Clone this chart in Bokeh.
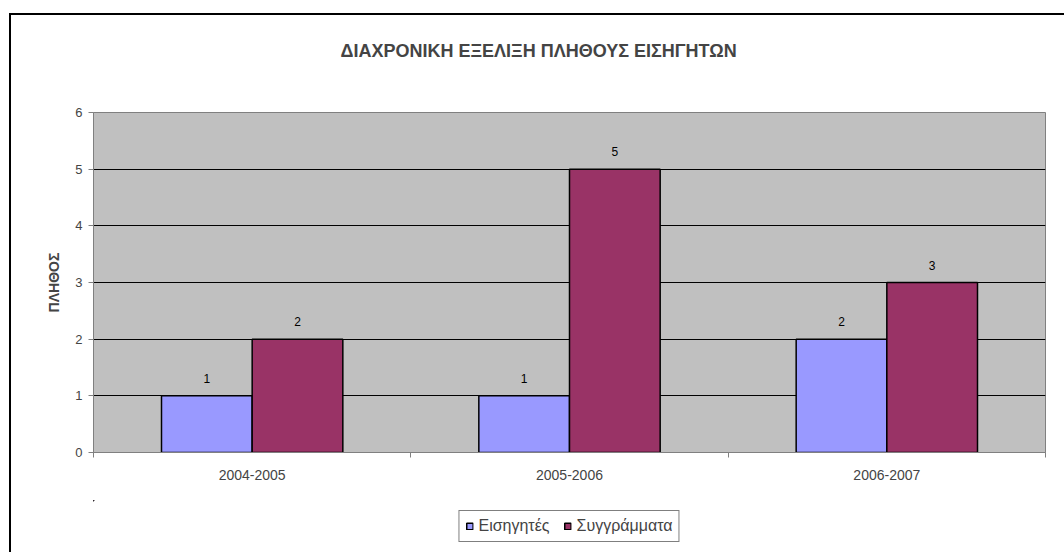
import numpy as np
from bokeh.plotting import figure
from bokeh.layouts import column
from bokeh.models import (ColumnDataSource, FixedTicker, Legend, LegendItem, Range1d, Title)
from bokeh.embed import file_html
from bokeh.resources import INLINE

categories = ["2004-2005", "2005-2006", "2006-2007"]
eisigites = [1, 1, 2]
syggrammata = [2, 5, 3]
series_names = ["Εισηγητές", "Συγγράμματα"]
colors = ["#9999FF", "#993366"]
title_text = "ΔΙΑΧΡΟΝΙΚΗ ΕΞΕΛΙΞΗ ΠΛΗΘΟΥΣ ΕΙΣΗΓΗΤΩΝ"
y_label = "ΠΛΗΘΟΣ"
y_ticks = [0, 1, 2, 3, 4, 5, 6]

FONT = "Liberation Sans"
n = len(categories)
centers = np.arange(n) + 0.5
bar_w = 1 / 3.5  # Excel gap width 150%

src = ColumnDataSource(dict(
    x0=centers - bar_w / 2,
    x1=centers + bar_w / 2,
    a=eisigites,
    b=syggrammata,
    a_lab=[str(v) for v in eisigites],
    b_lab=[str(v) for v in syggrammata],
))

p = figure(width=1053, height=485, output_backend="svg", toolbar_location=None,
           x_range=Range1d(0, n), y_range=Range1d(0, 6),
           min_border_left=82, min_border_right=19, min_border_top=97,
           min_border_bottom=48,
           background_fill_color="#C0C0C0", border_fill_color="white",
           outline_line_color="#808080", outline_line_width=1)

p.title.text = title_text
p.title.text_font = FONT
p.title.text_font_size = "18px"
p.title.text_font_style = "bold"
p.title.align = "left"
p.title.offset = 247
p.title.vertical_align = "bottom"
p.title.standoff = 0
# blank spacer between title and plot area
p.add_layout(Title(text=" ", text_font_size="10px", standoff=39), "above")

r1 = p.vbar(x="x0", top="a", width=bar_w, source=src, fill_color=colors[0],
            line_color="black", line_width=1.5)
r2 = p.vbar(x="x1", top="b", width=bar_w, source=src, fill_color=colors[1],
            line_color="black", line_width=1.5)

p.text(x="x0", y="a", text="a_lab", source=src, y_offset=-13,
       text_align="center", text_baseline="bottom", text_font_size="12px",
       text_color="black", text_font={"value": FONT})
p.text(x="x1", y="b", text="b_lab", source=src, y_offset=-13,
       text_align="center", text_baseline="bottom", text_font_size="12px",
       text_color="black", text_font={"value": FONT})

# grid
p.xgrid.visible = False
p.ygrid.ticker = FixedTicker(ticks=y_ticks[1:-1])
p.ygrid.grid_line_color = "black"
p.ygrid.grid_line_width = 1

# x axis
p.xaxis.ticker = FixedTicker(ticks=list(centers), minor_ticks=list(range(n + 1)))
p.xaxis.major_label_overrides = {float(c): lab for c, lab in zip(centers, categories)}
p.xaxis.major_tick_line_color = None
p.xaxis.major_tick_out = 5
p.xaxis.minor_tick_line_color = "#808080"
p.xaxis.minor_tick_out = 5
p.xaxis.minor_tick_in = 0
p.xaxis.axis_line_color = "#808080"
p.xaxis.major_label_text_font = FONT
p.xaxis.major_label_text_font_size = "14px"
p.xaxis.major_label_standoff = 12

# y axis
p.yaxis.ticker = FixedTicker(ticks=y_ticks)
p.yaxis.axis_line_color = "#808080"
p.yaxis.major_tick_line_color = "#808080"
p.yaxis.major_tick_out = 5
p.yaxis.major_tick_in = 0
p.yaxis.minor_tick_line_color = None
p.yaxis.major_label_text_font = FONT
p.yaxis.major_label_text_font_size = "13px"
p.yaxis.major_label_standoff = 6
p.yaxis.axis_label = y_label
p.yaxis.axis_label_text_font = FONT
p.yaxis.axis_label_text_font_size = "14px"
p.yaxis.axis_label_text_font_style = "bold"
p.yaxis.axis_label_standoff = 10

# legend strip below the chart (its bars lie far outside the visible ranges)
lf = figure(width=1053, height=52, output_backend="svg", toolbar_location=None,
            x_range=Range1d(100, 103), y_range=Range1d(-20, -10),
            x_axis_location=None, y_axis_location=None,
            min_border_left=82, min_border_right=19, min_border_top=0,
            min_border_bottom=0, outline_line_color=None,
            background_fill_color="white", border_fill_color="white")
lf.grid.visible = False
l1 = lf.vbar(x="x0", top="a", width=bar_w, source=src, fill_color=colors[0],
             line_color="black", line_width=1.5)
l2 = lf.vbar(x="x1", top="b", width=bar_w, source=src, fill_color=colors[1],
             line_color="black", line_width=1.5)
legend = Legend(items=[LegendItem(label=series_names[0], renderers=[l1]),
                       LegendItem(label=series_names[1], renderers=[l2])],
                orientation="horizontal", location="center",
                border_line_color="black", border_line_width=1,
                background_fill_color="white", background_fill_alpha=1,
                label_text_font=FONT, label_text_font_size="16px",
                glyph_width=8, glyph_height=8, spacing=14, padding=6,
                label_standoff=5, margin=0)
lf.add_layout(legend, "center")

layout = column(p, lf, spacing=0,
                styles={"margin-left": "9px", "margin-top": "13px",
                        "border-left": "2px solid black",
                        "border-top": "2px solid black"})

open("out.html", "w").write(file_html(layout, INLINE))
